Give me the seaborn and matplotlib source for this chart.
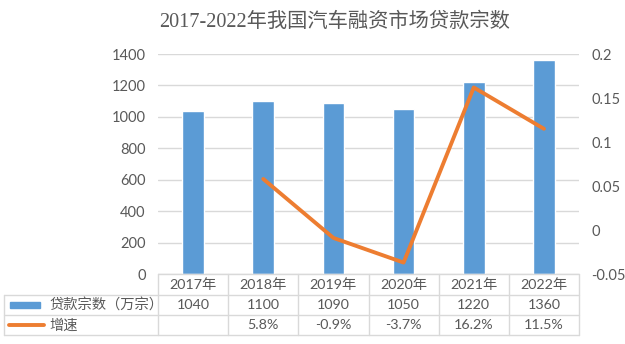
import matplotlib
matplotlib.use("Agg")
import matplotlib.pyplot as plt
from matplotlib.lines import Line2D
from matplotlib.patches import Rectangle
import numpy as np
import pandas as pd
import seaborn as sns

years = ["2017年", "2018年", "2019年", "2020年", "2021年", "2022年"]
loans = [1040, 1100, 1090, 1050, 1220, 1360]
growth = [np.nan, 0.058, -0.009, -0.037, 0.162, 0.115]
growth_labels = ["", "5.8%", "-0.9%", "-3.7%", "16.2%", "11.5%"]
series_names = ["贷款宗数（万宗）", "增速"]
title = "2017-2022年我国汽车融资市场贷款宗数"

sns.set_theme(style="white")
plt.rcParams["font.family"] = ["Lato", "Noto Sans CJK SC", "DejaVu Sans"]

BAR = "#5B9BD5"
LINE = "#ED7D31"
TXT = "#595959"
GRID = "#D9D9D9"

W, H = 625, 344
fig = plt.figure(figsize=(W / 100, H / 100), dpi=100)
fig.patch.set_facecolor("white")

def fx(x):
    return x / W

def fy(y):
    return 1 - y / H

left_px, right_px, top_px, bot_px = 158, 579, 54, 274
ax = fig.add_axes([fx(left_px), fy(bot_px), fx(right_px) - fx(left_px), fy(top_px) - fy(bot_px)])

df = pd.DataFrame({"year": years, "loans": loans, "growth": growth, "pos": np.arange(len(years))})

sns.barplot(data=df, x="pos", y="loans", color=BAR, width=0.31, ax=ax, saturation=1)
ax.set_xlim(-0.5, len(years) - 0.5)
ax.set_ylim(0, 1400)
ax.set_yticks(np.arange(0, 1401, 200))
ax.yaxis.grid(True, color=GRID, lw=1)
ax.set_axisbelow(True)
ax.set_xticks([])
ax.set_xlabel("")
ax.set_ylabel("")
for s in ax.spines.values():
    s.set_visible(False)
ax.tick_params(axis="y", length=0, labelsize=10.5, labelcolor=TXT, pad=9)

ax2 = ax.twinx()
gdf = df.dropna(subset=["growth"])
sns.lineplot(data=gdf, x="pos", y="growth", color=LINE, lw=2.8, ax=ax2)
ax2.set_ylim(-0.05, 0.2)
ticks = np.round(np.arange(-0.05, 0.2001, 0.05), 2)
ax2.set_yticks(ticks)
ax2.set_yticklabels([f"{t:g}" for t in ticks])
ax2.set_xlim(-0.5, len(years) - 0.5)
ax2.set_ylabel("")
ax2.set_xlabel("")
for s in ax2.spines.values():
    s.set_visible(False)
ax2.tick_params(axis="y", length=0, labelsize=10.5, labelcolor=TXT, pad=9)
ax2.set_xticks([])

# Title
fig.text(fx(335), fy(22), title, ha="center", va="center", fontsize=14.6, color=TXT,
         family=["Liberation Serif", "Noto Sans CJK SC"])

# Data table
n = len(years)
col_w = (right_px - left_px) / n
cols = [left_px + i * col_w for i in range(n + 1)]
rows = [274, 295, 315, 335]
tl = 4
lkw = dict(color=GRID, lw=1, transform=fig.transFigure)
fig.add_artist(Line2D([fx(left_px), fx(right_px)], [fy(rows[0])] * 2, **lkw))
for r in rows[1:]:
    fig.add_artist(Line2D([fx(tl), fx(right_px)], [fy(r)] * 2, **lkw))
for c in cols:
    fig.add_artist(Line2D([fx(c), fx(c)], [fy(rows[0]), fy(rows[3])], **lkw))
fig.add_artist(Line2D([fx(tl), fx(tl)], [fy(rows[1]), fy(rows[3])], **lkw))

def rc(i):
    return fy((rows[i] + rows[i + 1]) / 2)

FS = 10.3
for i, yr in enumerate(years):
    cx = fx((cols[i] + cols[i + 1]) / 2)
    fig.text(cx, rc(0), yr, ha="center", va="center", fontsize=FS, color=TXT)
    fig.text(cx, rc(1), str(loans[i]), ha="center", va="center", fontsize=FS, color=TXT)
    fig.text(cx, rc(2), growth_labels[i], ha="center", va="center", fontsize=FS, color=TXT)

fig.add_artist(Rectangle((fx(10), fy(308)), fx(40) - fx(10), fy(302) - fy(308),
                         color=BAR, transform=fig.transFigure))
fig.add_artist(Line2D([fx(9), fx(44)], [fy(325)] * 2, color=LINE, lw=2.8,
                      transform=fig.transFigure))
fig.text(fx(49), rc(1), series_names[0], ha="left", va="center", fontsize=FS, color=TXT)
fig.text(fx(49), rc(2), series_names[1], ha="left", va="center", fontsize=FS, color=TXT)

fig.savefig("out.png", dpi=100, facecolor="white")
